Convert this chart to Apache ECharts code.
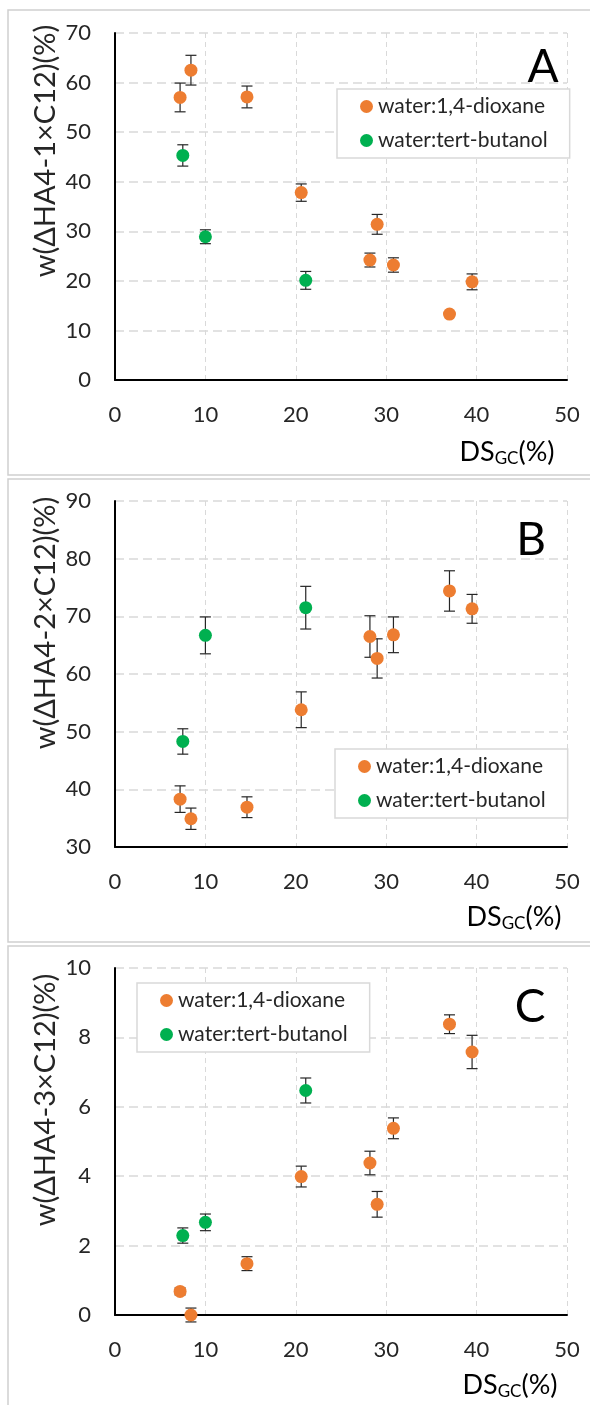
<!DOCTYPE html>
<html><head><meta charset="utf-8">
<script src="https://cdn.jsdelivr.net/npm/echarts@6/dist/echarts.min.js"></script>
<style>html,body{margin:0;padding:0;background:#fff}#c{width:590px;height:1405px}</style>
</head><body><div id="c"></div>
<script>
const seriesNames = ['water:1,4-dioxane', 'water:tert-butanol'];
const xTicks = [0, 10, 20, 30, 40, 50];
const xDiox = [7.2, 8.4, 14.6, 20.6, 28.2, 29.0, 30.8, 37.0, 39.5];
const xTert = [7.5, 10.0, 21.1];

const yDioxA = [57.0, 62.5, 57.1, 37.8, 24.2, 31.4, 23.2, 13.3, 19.8];
const eDioxA = [2.9, 3.0, 2.2, 1.75, 1.4, 2.0, 1.45, 0.5, 1.6];
const yTertA = [45.3, 28.9, 20.1];
const eTertA = [2.15, 1.4, 1.8];

const yDioxB = [38.3, 34.9, 36.9, 53.8, 66.5, 62.7, 66.8, 74.4, 71.3];
const eDioxB = [2.3, 1.85, 1.8, 3.1, 3.6, 3.4, 3.1, 3.5, 2.5];
const yTertB = [48.3, 66.7, 71.5];
const eTertB = [2.2, 3.2, 3.7];

const yDioxC = [0.68, 0.0, 1.48, 3.99, 4.38, 3.19, 5.38, 8.38, 7.58];
const eDioxC = [0.1, 0.2, 0.2, 0.3, 0.34, 0.37, 0.3, 0.27, 0.48];
const yTertC = [2.29, 2.67, 6.47];
const eTertC = [0.22, 0.24, 0.36];

const yAxisA = {min: 0, max: 70, interval: 10};
const yAxisB = {min: 30, max: 90, interval: 10};
const yAxisC = {min: 0, max: 10, interval: 2};
const yTitles = ['w(ΔHA4-1×C12)(%)', 'w(ΔHA4-2×C12)(%)', 'w(ΔHA4-3×C12)(%)'];
const panelLetters = ['A', 'B', 'C'];

const FONT = 'Lato, "Liberation Sans", sans-serif';
const ORANGE = '#ED7D31', GREEN = '#00B050';

const panels = [
  {top: 33, height: 347, y: yAxisA, d: yDioxA, de: eDioxA, t: yTertA, te: eTertA,
   legend: {left: 337, top: 89}, frame: [8, 10, 465], letter: [543, 67], ytitle: [46, 151], xtitle: [507, 452]},
  {top: 501, height: 346, y: yAxisB, d: yDioxB, de: eDioxB, t: yTertB, te: eTertB,
   legend: {left: 335, top: 749}, frame: [8, 479, 463], letter: [531, 540], ytitle: [46, 623], xtitle: [514, 917]},
  {top: 968, height: 347, y: yAxisC, d: yDioxC, de: eDioxC, t: yTertC, te: eTertC,
   legend: {left: 137, top: 983}, frame: [8, 946, 470], letter: [530, 1007], ytitle: [46, 1100], xtitle: [510, 1385]}
];

function errRender(params, api) {
  const x = api.value(0), lo = api.value(1), hi = api.value(2);
  const p1 = api.coord([x, lo]), p2 = api.coord([x, hi]);
  const cw = 5.5;
  const st = {stroke: '#262626', lineWidth: 1.2};
  return {type: 'group', children: [
    {type: 'line', shape: {x1: p1[0], y1: p1[1], x2: p2[0], y2: p2[1]}, style: st},
    {type: 'line', shape: {x1: p1[0] - cw, y1: p1[1], x2: p1[0] + cw, y2: p1[1]}, style: st},
    {type: 'line', shape: {x1: p2[0] - cw, y1: p2[1], x2: p2[0] + cw, y2: p2[1]}, style: st}
  ]};
}

const grid = [], xAxis = [], yAxis = [], series = [], legend = [], graphic = [];
panels.forEach((p, i) => {
  graphic.push({type: 'rect', shape: {x: p.frame[0], y: p.frame[1], width: 620, height: p.frame[2]},
    style: {fill: 'none', stroke: '#d0d0d0', lineWidth: 1.5}, z: -10});
  grid.push({left: 115, right: 23, top: p.top, height: p.height});
  xAxis.push({type: 'value', gridIndex: i, min: xTicks[0], max: xTicks[xTicks.length - 1], interval: 10,
    axisLine: {onZero: false, lineStyle: {color: '#000', width: 2}}, axisTick: {show: false},
    axisLabel: {margin: 24, fontSize: 22, color: '#262626', fontFamily: FONT},
    splitLine: {show: true, lineStyle: {color: '#d9d9d9', type: [5, 4], width: 1}}});
  yAxis.push({type: 'value', gridIndex: i, min: p.y.min, max: p.y.max, interval: p.y.interval,
    axisLine: {show: true, onZero: false, lineStyle: {color: '#000', width: 2}}, axisTick: {show: false},
    axisLabel: {margin: 24, fontSize: 22, color: '#262626', fontFamily: FONT},
    splitLine: {show: true, lineStyle: {color: '#d9d9d9', type: [9, 5], width: 1.5}}});
  const dErr = xDiox.map((x, k) => [x, p.d[k] - p.de[k], p.d[k] + p.de[k]]);
  const tErr = xTert.map((x, k) => [x, p.t[k] - p.te[k], p.t[k] + p.te[k]]);
  series.push({type: 'custom', xAxisIndex: i, yAxisIndex: i, renderItem: errRender, data: dErr, z: 1, silent: true, clip: false});
  series.push({type: 'custom', xAxisIndex: i, yAxisIndex: i, renderItem: errRender, data: tErr, z: 1, silent: true, clip: false});
  series.push({name: seriesNames[0], type: 'scatter', xAxisIndex: i, yAxisIndex: i, symbolSize: 13, z: 3,
    itemStyle: {color: ORANGE, opacity: 1}, data: xDiox.map((x, k) => [x, p.d[k]]), clip: false});
  series.push({name: seriesNames[1], type: 'scatter', xAxisIndex: i, yAxisIndex: i, symbolSize: 13, z: 3,
    itemStyle: {color: GREEN, opacity: 1}, data: xTert.map((x, k) => [x, p.t[k]]), clip: false});
  legend.push({data: seriesNames, orient: 'vertical', left: p.legend.left, top: p.legend.top,
    padding: [7, 22, 7, 23], itemGap: 13, itemWidth: 13, itemHeight: 13, icon: 'circle',
    backgroundColor: '#fff', borderColor: '#d9d9d9', borderWidth: 1.5,
    textStyle: {fontSize: 21, color: '#262626', fontFamily: FONT, lineHeight: 21}});
  graphic.push({type: 'text', x: p.letter[0], y: p.letter[1], z: 10,
    style: {text: panelLetters[i], font: '46px ' + FONT, fill: '#000', align: 'center', verticalAlign: 'middle'}});
  graphic.push({type: 'text', x: p.ytitle[0], y: p.ytitle[1], rotation: Math.PI / 2, z: 10,
    style: {text: yTitles[i], font: '29px ' + FONT, fill: '#262626', align: 'center', verticalAlign: 'middle'}});
  graphic.push({type: 'text', x: p.xtitle[0], y: p.xtitle[1], z: 10,
    style: {text: '{a|DS}{s|GC}{a|(%)}', align: 'center', verticalAlign: 'middle',
      rich: {a: {fontSize: 27, fontFamily: FONT, color: '#262626'},
             s: {fontSize: 17, fontFamily: FONT, color: '#262626', padding: [14, 0, 0, 0]}}}});
});

const chart = echarts.init(document.getElementById('c'), null, {renderer: 'canvas'});
chart.setOption({animation: false, backgroundColor: '#fff', grid, xAxis, yAxis, series, legend, graphic});
</script></body></html>
